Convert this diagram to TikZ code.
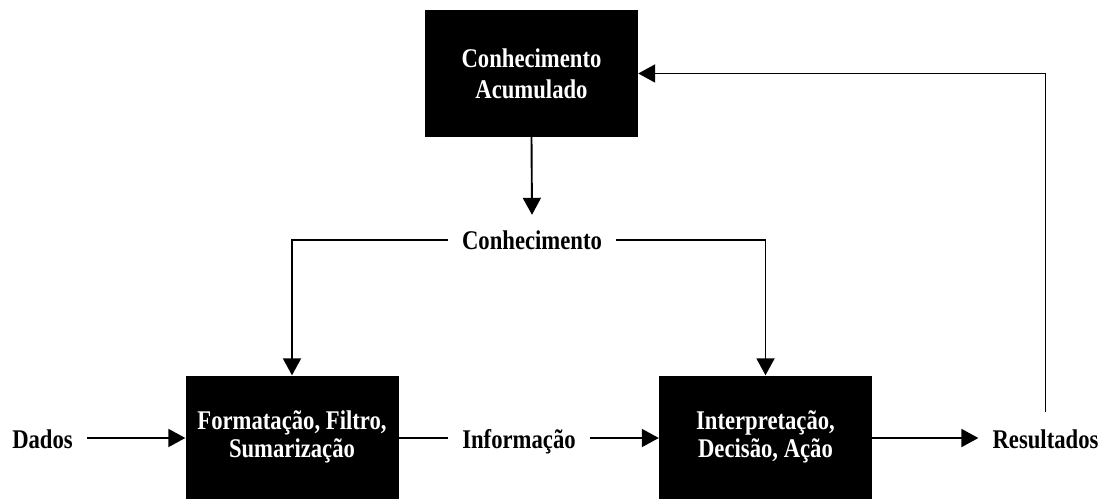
\documentclass[tikz,border=0pt]{standalone}
\usepackage{fontspec}
\setmainfont{Liberation Serif}[FakeStretch=0.84]
\usetikzlibrary{arrows.meta}
\begin{document}
\begin{tikzpicture}[x=1pt,y=-1pt,
  blk/.style={fill=black,text=white,minimum width=213pt,minimum height=123pt,inner sep=0pt,align=center,font=\fontsize{27}{28}\selectfont\bfseries},
  lbl/.style={inner xsep=14pt,inner ysep=0pt,text height=20pt,text depth=0pt,font=\fontsize{27}{28}\selectfont\bfseries},
  ln/.style={line width=1.9pt},
  arr/.style={ln,-{Triangle[length=17pt,width=18pt]}}]
\useasboundingbox (0,0) rectangle (1104,500);
\node[blk,minimum height=127pt,font=\fontsize{27}{31}\selectfont\bfseries] (acc) at (531.5,73.5) {Conhecimento\\Acumulado};
\node[blk] (fmt) at (292,437) {Formatação, Filtro,\\Sumarização};
\node[blk] (int) at (765.5,437) {Interpretação,\\Decisão, Ação};
\node[lbl] (conh) at (532,240) {Conhecimento};
\node[lbl] (dados) at (42.5,438) {Dados};
\node[lbl] (info) at (519,438) {Informação};
\node[lbl] (res) at (1045.5,438) {Resultados};
\draw[arr] (acc.south) -- ([yshift=15pt]conh.north);
\draw[arr] (conh.west) -| (fmt.north);
\draw[arr] (conh.east) -| (int.north);
\draw[arr] (dados.east) -- (dados.east -| fmt.west);
\draw[ln] (fmt.east |- info.west) -- (info.west);
\draw[arr] (info.east) -- (info.east -| int.west);
\draw[arr] (int.east |- res.west) -- (res.west);
\draw[arr] ([yshift=16pt]res.north) |- (acc.east);
\end{tikzpicture}
\end{document}
